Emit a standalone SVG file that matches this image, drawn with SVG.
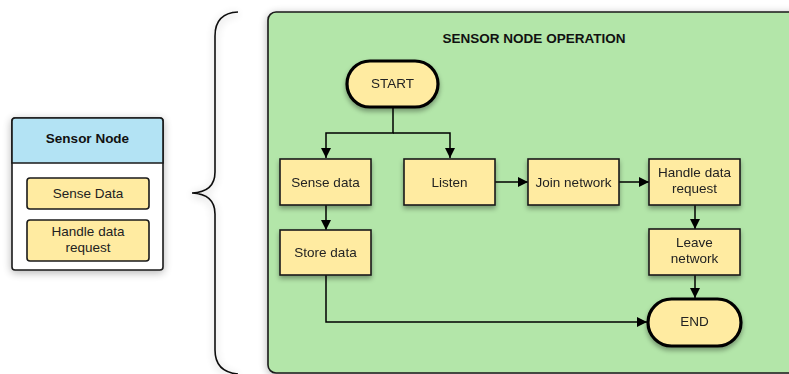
<svg xmlns="http://www.w3.org/2000/svg" width="789" height="374" viewBox="0 0 789 374">
  <defs>
    <filter id="shadow" x="-20%" y="-20%" width="140%" height="150%">
      <feGaussianBlur in="SourceAlpha" stdDeviation="2.5"/>
      <feOffset dx="0" dy="3" result="b"/>
      <feComponentTransfer><feFuncA type="linear" slope="0.35"/></feComponentTransfer>
      <feMerge><feMergeNode/><feMergeNode in="SourceGraphic"/></feMerge>
    </filter>
    <filter id="softShadow" x="-20%" y="-10%" width="140%" height="120%">
      <feGaussianBlur in="SourceAlpha" stdDeviation="4"/>
      <feOffset dx="0" dy="2"/>
      <feComponentTransfer><feFuncA type="linear" slope="0.3"/></feComponentTransfer>
      <feMerge><feMergeNode/><feMergeNode in="SourceGraphic"/></feMerge>
    </filter>
    <marker id="arrow" viewBox="0 0 10 10" refX="10" refY="5" markerWidth="10" markerHeight="10" markerUnits="userSpaceOnUse" orient="auto">
      <path d="M0,0 L10,5 L0,10 z" fill="#000"/>
    </marker>
  </defs>
  <style>
    .box { fill: #ffeba1; stroke: #1a1a1a; stroke-width: 1.6; }
    .term { fill: #ffeba1; stroke: #000; stroke-width: 3.2; }
    .lbl { font-family: "Liberation Sans", Arial, sans-serif; font-size: 13.5px; fill: #222; text-anchor: middle; }
    .bold { font-family: "Liberation Sans", Arial, sans-serif; font-weight: bold; font-size: 13.5px; fill: #111; text-anchor: middle; }
    .conn { fill: none; stroke: #000; stroke-width: 1.5; }
  </style>

  <rect width="789" height="374" fill="#ffffff"/>

  <!-- Sensor node summary card -->
  <g id="sensor-node">
    <g filter="url(#softShadow)">
      <rect x="12" y="118" width="151" height="152" rx="3" fill="#ffffff" stroke="#1a1a1a" stroke-width="1.6"/>
    </g>
    <path d="M12,163 V121 a3,3 0 0 1 3,-3 H160 a3,3 0 0 1 3,3 V163 z" fill="#b3e3f4" stroke="#1a1a1a" stroke-width="1.6"/>
    <text class="bold" x="87.5" y="143">Sensor Node</text>
    <g id="sensor-sense">
      <rect x="27" y="178" width="122" height="31" rx="3" class="box"/>
      <text class="lbl" x="88" y="198">Sense Data</text>
    </g>
    <g id="sensor-handle">
      <rect x="27" y="220" width="122" height="41" rx="3" class="box"/>
      <text class="lbl" x="88" y="236">Handle data</text>
      <text class="lbl" x="88" y="252">request</text>
    </g>
  </g>

  <!-- Curly brace -->
  <g id="brace" filter="url(#softShadow)">
    <path d="M238,12 Q215,13 215,36 V172 Q215,192 192,193 Q215,194 215,214 V350 Q215,372 238,374" fill="none" stroke="#111" stroke-width="1.6"/>
  </g>

  <!-- Operation panel -->
  <g id="panel" filter="url(#softShadow)">
    <rect x="268" y="12" width="540" height="361" rx="8" fill="#b3e6a9" stroke="#1a1a1a" stroke-width="1.6"/>
  </g>
  <text class="bold" x="534" y="43">SENSOR NODE OPERATION</text>

  <!-- Connectors -->
  <g id="connectors">
    <path class="conn" d="M393,107 V133 H326 V158" marker-end="url(#arrow)"/>
    <path class="conn" d="M393,133 H450 V158" marker-end="url(#arrow)"/>
    <path class="conn" d="M326,205 V230" marker-end="url(#arrow)"/>
    <path class="conn" d="M495,182 H528" marker-end="url(#arrow)"/>
    <path class="conn" d="M619,182 H649" marker-end="url(#arrow)"/>
    <path class="conn" d="M695,205 V229" marker-end="url(#arrow)"/>
    <path class="conn" d="M695,275 V298" marker-end="url(#arrow)"/>
    <path class="conn" d="M326,275 V322 H647" marker-end="url(#arrow)"/>
  </g>

  <!-- Flow nodes -->
  <g id="start" filter="url(#shadow)">
    <rect x="347" y="61" width="91" height="46" rx="23" class="term"/>
    <text class="lbl" x="392.5" y="88">START</text>
  </g>
  <g id="sense-data" filter="url(#shadow)">
    <rect x="280" y="159" width="91" height="46" class="box"/>
    <text class="lbl" x="325.5" y="187">Sense data</text>
  </g>
  <g id="listen" filter="url(#shadow)">
    <rect x="404" y="159" width="91" height="46" class="box"/>
    <text class="lbl" x="449.5" y="187">Listen</text>
  </g>
  <g id="join-network" filter="url(#shadow)">
    <rect x="528" y="159" width="91" height="46" class="box"/>
    <text class="lbl" x="573.5" y="187">Join network</text>
  </g>
  <g id="handle-request" filter="url(#shadow)">
    <rect x="649" y="159" width="91" height="46" class="box"/>
    <text class="lbl" x="694.5" y="177">Handle data</text>
    <text class="lbl" x="694.5" y="193">request</text>
  </g>
  <g id="store-data" filter="url(#shadow)">
    <rect x="280" y="230" width="91" height="45" class="box"/>
    <text class="lbl" x="325.5" y="257">Store data</text>
  </g>
  <g id="leave-network" filter="url(#shadow)">
    <rect x="649" y="229" width="91" height="46" class="box"/>
    <text class="lbl" x="694.5" y="247">Leave</text>
    <text class="lbl" x="694.5" y="263">network</text>
  </g>
  <g id="end" filter="url(#shadow)">
    <rect x="648" y="299" width="93" height="47" rx="23.5" class="term"/>
    <text class="lbl" x="694.5" y="326">END</text>
  </g>
</svg>
